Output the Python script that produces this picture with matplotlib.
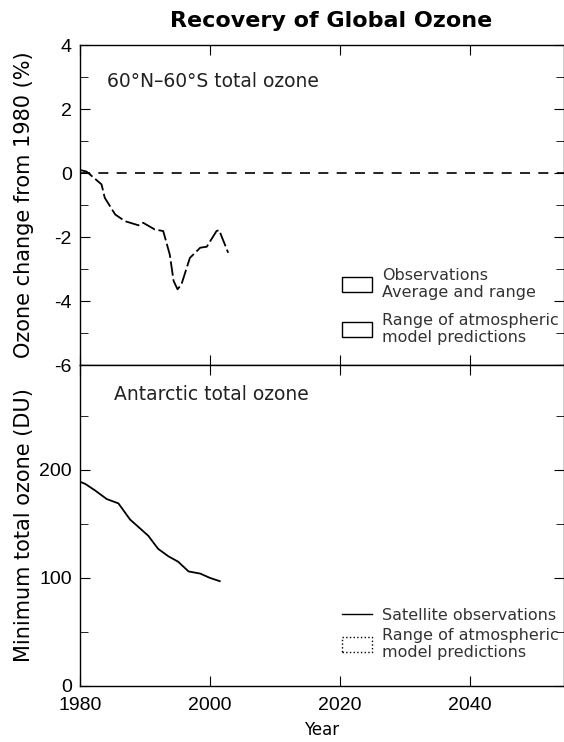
import numpy as np
import matplotlib
matplotlib.use('Agg')
import matplotlib.pyplot as plt
from matplotlib.patches import Patch
from matplotlib.lines import Line2D

plt.rcParams['font.family'] = ['DejaVu Sans']
plt.rcParams['axes.unicode_minus'] = False

# 60N-60S total ozone change (%)
years_mid = [1980.0, 1981.0, 1983.3, 1983.8, 1985.4, 1986.9, 1989.0, 1989.7, 1991.5,
             1992.8, 1993.8, 1994.4, 1995.0, 1995.6, 1996.9, 1998.5, 1999.5, 2001.0,
             2001.4, 2002.8]
change_mid = [0.1, 0.05, -0.35, -0.77, -1.29, -1.5, -1.63, -1.55, -1.76,
              -1.81, -2.54, -3.37, -3.63, -3.48, -2.65, -2.33, -2.30, -1.81,
              -1.78, -2.49]

# Antarctic minimum total ozone (DU)
years_ant = [1980.0, 1980.8, 1982.3, 1984.1, 1985.9, 1987.7, 1989.2, 1990.5, 1992.0,
             1993.6, 1995.1, 1996.7, 1998.5, 2000.0, 2001.5]
min_ozone = [189, 187, 181, 173, 169, 154, 146, 139, 127,
             120, 115, 106, 104, 100, 97]

xticks = [1980, 2000, 2020, 2040]

fig = plt.figure(figsize=(5.64, 7.42), dpi=100)
ax1 = fig.add_axes([0.142, 0.508, 0.858, 0.431])
ax2 = fig.add_axes([0.142, 0.0755, 0.858, 0.4325], sharex=ax1)

fig.text(0.587, 0.972, 'Recovery of Global Ozone', ha='center', va='center',
         fontsize=16, fontweight='bold')

leg_kw = dict(loc='lower left', frameon=False, fontsize=11.5, handlelength=1.9,
              handleheight=1.1, handletextpad=0.6, borderpad=0, borderaxespad=0,
              labelcolor='#333333')

# top panel
ax1.axhline(0, color='black', lw=1.2, ls=(0, (6, 5)))
ax1.plot(years_mid, change_mid, color='black', lw=1.3, ls=(0, (8, 2)))
ax1.set_ylim(-6, 4)
ax1.set_yticks(np.arange(-6, 5, 2))
ax1.set_yticks(np.arange(-6, 5, 1), minor=True)
ax1.set_ylabel('Ozone change from 1980 (%)', fontsize=15)
ax1.yaxis.set_label_coords(-0.095, 0.5)
ax1.text(0.055, 0.87, '60°N–60°S total ozone', transform=ax1.transAxes,
         fontsize=13.5, color='#222222')
h1 = [Patch(facecolor='white', edgecolor='black', lw=1),
      Patch(facecolor='white', edgecolor='black', lw=1)]
ax1.legend(h1, ['Observations\nAverage and range', 'Range of atmospheric\nmodel predictions'],
           bbox_to_anchor=(0.541, 0.062), labelspacing=0.8, **leg_kw)
plt.setp(ax1.get_xticklabels(), visible=False)

# bottom panel
ax2.plot(years_ant, min_ozone, color='black', lw=1.3)
ax2.set_ylim(0, 297)
ax2.set_yticks([0, 100, 200])
ax2.set_yticks(np.arange(0, 297, 50), minor=True)
ax2.set_ylabel('Minimum total ozone (DU)', fontsize=15)
ax2.yaxis.set_label_coords(-0.095, 0.5)
ax2.text(0.07, 0.89, 'Antarctic total ozone', transform=ax2.transAxes,
         fontsize=13.5, color='#222222')
h2 = [Line2D([], [], color='black', lw=1),
      Patch(facecolor='white', edgecolor='black', lw=1, ls=':')]
ax2.legend(h2, ['Satellite observations', 'Range of atmospheric\nmodel predictions'],
           bbox_to_anchor=(0.541, 0.08), labelspacing=0.3, **leg_kw)

ax2.set_xlim(1980, 2054.5)
ax2.set_xticks(xticks)
ax2.set_xlabel('Year', fontsize=12, labelpad=5)

for ax in (ax1, ax2):
    ax.tick_params(which='both', direction='in', top=True, right=True, labelsize=14)
    ax.tick_params(which='major', length=7)
    ax.tick_params(which='minor', length=6)
    ax.tick_params(axis='y', pad=6)
    ax.tick_params(axis='x', pad=8)
    for lbl in ax.get_xticklabels() + ax.get_yticklabels():
        lbl.set_family('Liberation Sans')
    for s in ax.spines.values():
        s.set_linewidth(1)

fig.savefig('out.png', dpi=100)
